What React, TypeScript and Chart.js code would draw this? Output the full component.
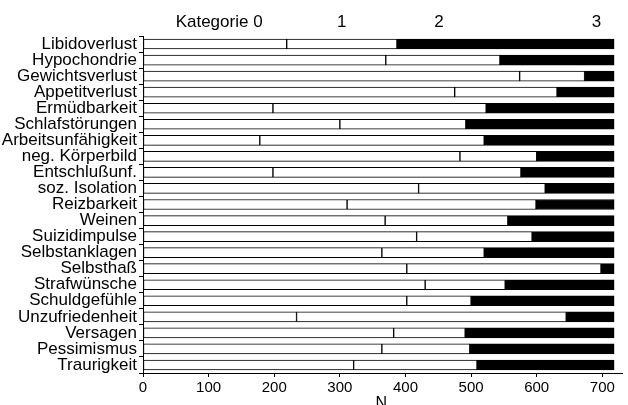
import React, { useEffect, useRef } from "react";
import { Chart, registerables } from "chart.js";

Chart.register(...registerables);

const categories = [
  "Libidoverlust",
  "Hypochondrie",
  "Gewichtsverlust",
  "Appetitverlust",
  "Ermüdbarkeit",
  "Schlafstörungen",
  "Arbeitsunfähigkeit",
  "neg. Körperbild",
  "Entschlußunf.",
  "soz. Isolation",
  "Reizbarkeit",
  "Weinen",
  "Suizidimpulse",
  "Selbstanklagen",
  "Selbsthaß",
  "Strafwünsche",
  "Schuldgefühle",
  "Unzufriedenheit",
  "Versagen",
  "Pessimismus",
  "Traurigkeit",
];

// first white segment
const kat0 = [219, 370, 574, 475, 198, 300, 178, 483, 198, 420, 311, 369, 417, 364, 402, 430, 402, 234, 382, 364, 321];
// second white segment
const kat12 = [168, 174, 99, 156, 325, 192, 342, 117, 378, 193, 288, 187, 176, 156, 296, 122, 98, 411, 109, 134, 188];
// black segment
const kat3 = [331, 174, 45, 87, 195, 226, 198, 118, 142, 105, 119, 162, 125, 198, 20, 166, 218, 73, 227, 220, 209];

const xTicks = [0, 100, 200, 300, 400, 500, 600, 700];
const topLabels = ["Kategorie 0", "1", "2", "3"];
const topLabelValues = [116, 303, 451, 691];
const xTitle = "N";
const xTitleValue = 363;

const FONT = "'Liberation Sans', Arial, sans-serif";

const textPlugin = {
  id: "textPlugin",
  afterDraw(chart: any) {
    const { ctx, scales } = chart;
    const x = scales.x;
    ctx.save();
    ctx.fillStyle = "#000";
    ctx.font = `17px ${FONT}`;
    ctx.textAlign = "center";
    ctx.textBaseline = "middle";
    topLabels.forEach((t, i) => {
      ctx.fillText(t, x.getPixelForValue(topLabelValues[i]), 22);
    });
    ctx.font = `16px ${FONT}`;
    ctx.fillText(xTitle, x.getPixelForValue(xTitleValue), chart.chartArea.bottom + 31);
    ctx.restore();
  },
};

export default function App() {
  const ref = useRef<HTMLCanvasElement | null>(null);
  useEffect(() => {
    document.body.style.margin = "0";
    const canvas = ref.current!;
    const chart = new Chart(canvas, {
      type: "bar",
      data: {
        labels: categories,
        datasets: [
          { label: "Kategorie 0", data: kat0, backgroundColor: "#fff", borderColor: "#000", borderWidth: 1, borderSkipped: false },
          { label: "Kategorie 1-2", data: kat12, backgroundColor: "#fff", borderColor: "#000", borderWidth: 1, borderSkipped: false },
          { label: "Kategorie 3", data: kat3, backgroundColor: "#000", borderColor: "#000", borderWidth: 1, borderSkipped: false },
        ],
      },
      options: {
        indexAxis: "y",
        animation: false,
        responsive: false,
        maintainAspectRatio: false,
        layout: { padding: { top: 36, right: 6, left: 0, bottom: 0 } },
        datasets: { bar: { barThickness: 10 } },
        plugins: { legend: { display: false }, tooltip: { enabled: false }, title: { display: false } },
        scales: {
          x: {
            stacked: true,
            min: 0,
            max: 730,
            afterBuildTicks(scale: any) {
              scale.ticks = xTicks.map((v) => ({ value: v }));
            },
            afterFit(scale: any) {
              scale.height = 32;
            },
            border: { display: true, color: "#000", width: 1 },
            grid: { drawOnChartArea: false, drawTicks: true, tickLength: 4, color: "#000" },
            ticks: { color: "#000", font: { family: FONT, size: 15 }, padding: 2, maxRotation: 0 },
          },
          y: {
            stacked: true,
            afterFit(scale: any) {
              scale.width = 143;
            },
            border: { display: true, color: "#000", width: 1 },
            grid: { drawOnChartArea: false, drawTicks: true, tickLength: 4, color: "#000" },
            ticks: { color: "#000", font: { family: FONT, size: 17 }, padding: 2, autoSkip: false },
          },
        },
      },
      plugins: [textPlugin],
    } as any);
    return () => chart.destroy();
  }, []);
  return <canvas ref={ref} width={628} height={405} style={{ display: "block" }} />;
}
